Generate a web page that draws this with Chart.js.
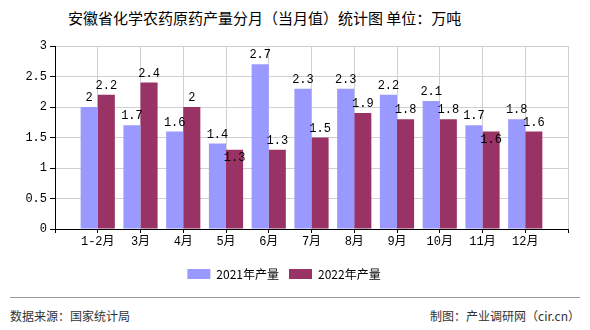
<!DOCTYPE html>
<html>
<head>
<meta charset="utf-8">
<script src="https://cdn.jsdelivr.net/npm/chart.js@4.4.0/dist/chart.umd.min.js"></script>
<style>
body{margin:0;background:#fff;}
#wrap{position:relative;width:590px;height:330px;overflow:hidden;}
#box{position:absolute;left:0;top:0;width:590px;height:296px;}
#title{position:absolute;left:68px;top:7px;font:15px 'Noto Sans CJK SC';color:#000;white-space:nowrap;}
#line{position:absolute;left:10px;top:297px;width:570px;height:1px;background:#999;}
.foot{position:absolute;top:307px;font:12px 'Noto Sans CJK SC';color:#333;white-space:nowrap;}
</style>
</head>
<body>
<div id="wrap">
  <div id="title">安徽省化学农药原药产量分月（当月值）统计图&nbsp;单位：万吨</div>
  <div id="box"><canvas id="myChart"></canvas></div>
  <div id="line"></div>
  <div class="foot" style="left:10px;">数据来源：国家统计局</div>
  <div class="foot" style="right:10px;">制图：产业调研网（cir.cn）</div>
</div>
<script>
var categories = ["1-2月", "3月", "4月", "5月", "6月", "7月", "8月", "9月", "10月", "11月", "12月"];
var data2021 = [2, 1.7, 1.6, 1.4, 2.7, 2.3, 2.3, 2.2, 2.1, 1.7, 1.8];
var data2022 = [2.2, 2.4, 2, 1.3, 1.3, 1.5, 1.9, 1.8, 1.8, 1.6, 1.6];
var yMin = 0, yMax = 3, yStep = 0.5;

// empty slot at each end, categories sit on the grid lines
function pad(arr, v){
    return [v].concat(arr, [v]);
}

var monoFont = "'Liberation Mono', 'Noto Sans CJK SC', monospace";

var valueLabels = {
    id: "valueLabels",
    afterDatasetsDraw: function(chart){
        var ctx = chart.ctx;
        var m0 = chart.getDatasetMeta(0), m1 = chart.getDatasetMeta(1);
        ctx.save();
        ctx.font = "12px " + monoFont;
        ctx.fillStyle = "#000";
        ctx.textAlign = "center";
        [m0, m1].forEach(function(meta, di){
            var other = di == 0 ? m1 : m0;
            var ds = chart.data.datasets[di].data;
            meta.data.forEach(function(bar, i){
                if(ds[i] == null) return;
                var sib = other.data[i];
                if(sib && sib.y < bar.y && bar.y - sib.y < 10){
                    ctx.textBaseline = "top";
                    ctx.fillText(String(ds[i]), bar.x, bar.y + 2);
                } else {
                    ctx.textBaseline = "bottom";
                    ctx.fillText(String(ds[i]), bar.x, bar.y - 3);
                }
            });
        });
        ctx.restore();
    }
};

var ctx = document.getElementById("myChart").getContext("2d");

var myChart = new Chart(ctx, {
    type: "bar",
    data: {
        labels: pad(categories, ""),
        datasets: [
            {
                label: "2021年产量",
                backgroundColor: "#9999ff",
                data: pad(data2021, null)
            },
            {
                label: "2022年产量",
                backgroundColor: "#993366",
                data: pad(data2022, null)
            }
        ]
    },
    options: {
        responsive: true,
        maintainAspectRatio: false,
        animation: false,
        layout: { padding: { top: 46, right: 22, bottom: 6, left: 0 } },
        datasets: { bar: { barPercentage: 1, categoryPercentage: 0.8 } },
        scales: {
            x: {
                offset: false,
                grid: { offset: false, color: "#d0d0d0", tickColor: "#000", tickLength: 4 },
                border: { color: "#000" },
                ticks: { color: "#000", font: { size: 12, family: monoFont }, padding: 2, maxRotation: 0, autoSkip: false },
                afterFit: function(scale){ scale.height = 29; }
            },
            y: {
                min: yMin,
                max: yMax,
                grid: { color: "#d0d0d0", tickColor: "#000", tickLength: 5 },
                border: { color: "#000" },
                ticks: {
                    stepSize: yStep,
                    color: "#000",
                    font: { size: 12, family: monoFont },
                    padding: 3,
                    callback: function(v){ return String(Math.round(v * 10) / 10); }
                },
                afterFit: function(scale){ scale.width = 55; }
            }
        },
        plugins: {
            title: { display: false },
            tooltip: { enabled: false },
            legend: {
                position: "bottom",
                labels: {
                    boxWidth: 23,
                    boxHeight: 10,
                    padding: 10,
                    color: "#000",
                    font: { size: 12, family: "'Noto Sans CJK SC'" }
                }
            }
        }
    },
    plugins: [valueLabels]
});
</script>
</body>
</html>
